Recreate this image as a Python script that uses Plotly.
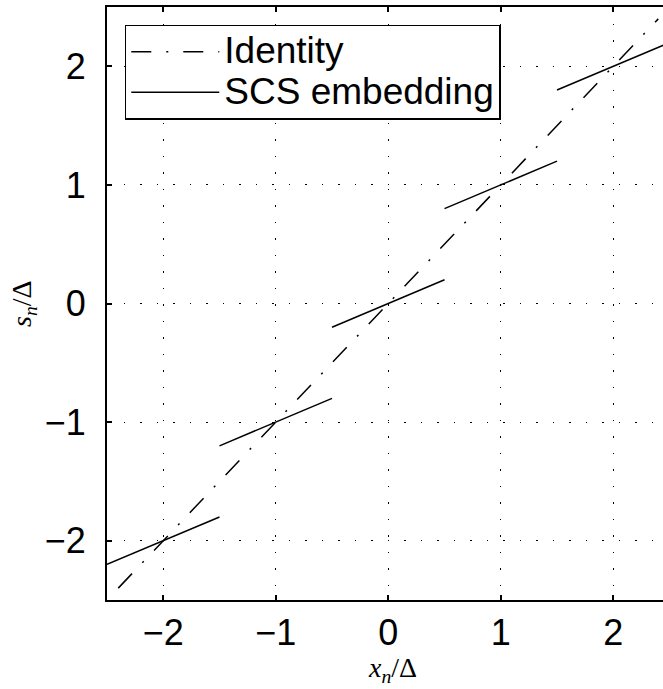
import plotly.graph_objects as go

# Identity line endpoints
identity_x = [-2.4, 2.4]
identity_y = [-2.4, 2.4]

# SCS embedding segments (start/end points)
seg_x_start = [-2.5, -1.5, -0.5, 0.5, 1.5]
seg_x_end = [-1.5, -0.5, 0.5, 1.5, 2.5]
seg_y_start = [-2.2, -1.2, -0.2, 0.8, 1.8]
seg_y_end = [-1.8, -0.8, 0.2, 1.2, 2.2]

tick_vals = [-2, -1, 0, 1, 2]
tick_text = ["\u22122", "\u22121", "0", "1", "2"]

scs_x, scs_y = [], []
for xs, xe, ys, ye in zip(seg_x_start, seg_x_end, seg_y_start, seg_y_end):
    scs_x += [xs, xe, None]
    scs_y += [ys, ye, None]

fig = go.Figure()
fig.add_trace(go.Scatter(x=identity_x, y=identity_y, mode="lines",
                         name="<span style='font-size:37px'>Identity</span>",
                         line=dict(color="black", width=1.5, dash="20px,15px,2px,15px")))
fig.add_trace(go.Scatter(x=scs_x, y=scs_y, mode="lines",
                         name="<span style='font-size:37px'>SCS embedding</span>",
                         line=dict(color="black", width=1.5)))

font_main = "Liberation Sans, Arial, Helvetica, sans-serif"
axis_common = dict(
    showline=True, linecolor="black", linewidth=2,
    ticks="inside", ticklen=5, tickwidth=1.5, tickcolor="black",
    showgrid=True, gridcolor="black", gridwidth=1, griddash="1.5px,15px",
    zeroline=False, tickvals=tick_vals, ticktext=tick_text,
    tickfont=dict(family=font_main, size=36, color="black"),
)

fig.update_layout(
    width=663, height=689,
    margin=dict(l=107, r=0, t=7, b=89),
    paper_bgcolor="white", plot_bgcolor="white",
    showlegend=True,
    legend=dict(
        x=0.032, y=0.97, xanchor="left", yanchor="top",
        bgcolor="white", bordercolor="black", borderwidth=1.5,
        font=dict(family=font_main, size=29, color="black"),
        itemwidth=88, tracegroupgap=0,
    ),
)
fig.update_xaxes(range=[-2.5, 2.442], mirror="ticks", ticklabelstandoff=0, **axis_common)
fig.update_yaxes(range=[-2.5, 2.5], mirror=False, ticklabelstandoff=12, **axis_common)

serif = "Liberation Serif, DejaVu Serif, serif"
fig.add_annotation(text="<i>x</i><sub><i>n</i></sub>/\u0394", xref="paper", yref="paper",
                   x=(392 - 107) / 556, y=-(669 - 600) / 593, xanchor="center", yanchor="middle",
                   showarrow=False, font=dict(family=serif, size=28, color="black"))
fig.add_annotation(text="<i>s</i><sub><i>n</i></sub>/\u0394", xref="paper", yref="paper",
                   x=-(107 - 23) / 556, y=(600 - 304) / 593, xanchor="center", yanchor="middle",
                   textangle=-90, showarrow=False, font=dict(family=serif, size=28, color="black"))

fig.write_html("out.html", config={"displayModeBar": False},
               post_script="document.body.style.margin='0';document.body.style.overflow='hidden';")
